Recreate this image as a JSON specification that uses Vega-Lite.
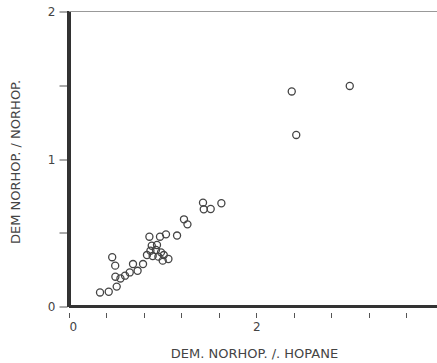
{
  "$schema": "https://vega.github.io/schema/vega-lite/v6.json",
  "width": 368,
  "height": 295,
  "autosize": {"type": "none"},
  "padding": {"left": 69, "top": 11.5, "right": 0, "bottom": 56.5},
  "background": "white",
  "config": {"view": {"stroke": null}},
  "data": {"values": [
    {"a": 2.377, "b": 1.458}, {"a": 2.996, "b": 1.495}, {"a": 2.425, "b": 1.163},
    {"a": 1.430, "b": 0.704}, {"a": 1.438, "b": 0.659}, {"a": 1.512, "b": 0.661},
    {"a": 1.626, "b": 0.700}, {"a": 1.227, "b": 0.591}, {"a": 1.264, "b": 0.557},
    {"a": 0.858, "b": 0.473}, {"a": 0.971, "b": 0.473}, {"a": 1.035, "b": 0.489},
    {"a": 1.153, "b": 0.481}, {"a": 0.883, "b": 0.412}, {"a": 0.939, "b": 0.417},
    {"a": 0.869, "b": 0.378}, {"a": 0.928, "b": 0.383}, {"a": 0.982, "b": 0.367},
    {"a": 0.832, "b": 0.349}, {"a": 0.893, "b": 0.342}, {"a": 0.954, "b": 0.338},
    {"a": 1.011, "b": 0.349}, {"a": 1.000, "b": 0.311}, {"a": 1.061, "b": 0.322},
    {"a": 0.790, "b": 0.288}, {"a": 0.461, "b": 0.334}, {"a": 0.493, "b": 0.277},
    {"a": 0.683, "b": 0.288}, {"a": 0.732, "b": 0.242}, {"a": 0.648, "b": 0.231},
    {"a": 0.598, "b": 0.209}, {"a": 0.549, "b": 0.190}, {"a": 0.495, "b": 0.202},
    {"a": 0.509, "b": 0.135}, {"a": 0.424, "b": 0.100}, {"a": 0.331, "b": 0.095}
  ]},
  "layer": [
    {
      "mark": {"type": "rule", "color": "#333", "strokeWidth": 3},
      "encoding": {"x": {"datum": 0, "type": "quantitative", "scale": {"domain": [0, 3.927]}}}
    },
    {
      "mark": {"type": "rule", "color": "#333", "strokeWidth": 3},
      "encoding": {"y": {"datum": 0, "type": "quantitative", "scale": {"domain": [0, 2]}}}
    },
    {
      "mark": {"type": "rule", "color": "#999", "strokeWidth": 1.2},
      "encoding": {"y": {"datum": 2, "type": "quantitative"}}
    },
    {
      "mark": {"type": "point", "shape": "circle", "filled": false, "size": 50, "stroke": "#444", "strokeWidth": 1.3, "opacity": 1},
      "encoding": {
        "x": {
          "field": "a", "type": "quantitative",
          "scale": {"domain": [0, 3.927], "nice": false, "zero": false},
          "axis": {
            "title": "DEM. NORHOP. /. HOPANE",
            "values": [0, 0.4, 0.8, 1.2, 1.6, 2, 2.4, 2.8, 3.2, 3.6],
            "format": "~g",
            "labelExpr": "datum.value == 0 || datum.value == 2 ? datum.label : ''",
            "domain": false, "grid": false,
            "offset": 6, "tickSize": 5, "tickColor": "#555", "tickWidth": 1,
            "labelPadding": 4, "labelFont": "DejaVu Sans", "labelFontSize": 12, "labelColor": "#444",
            "titleFont": "DejaVu Sans", "titleFontSize": 13, "titleFontWeight": "normal", "titleColor": "#444",
            "titleX": 185, "titleY": 41, "titleBaseline": "middle", "titleAlign": "center"
          }
        },
        "y": {
          "field": "b", "type": "quantitative",
          "scale": {"domain": [0, 2], "nice": false, "zero": false},
          "axis": {
            "title": "DEM NORHOP. / NORHOP.",
            "values": [0, 0.25, 0.5, 0.75, 1, 1.25, 1.5, 1.75, 2],
            "format": "~g",
            "labelExpr": "datum.value == 0 || datum.value == 1 || datum.value == 2 ? datum.label : ''",
            "domain": false, "grid": false,
            "offset": 2, "tickSize": 8, "tickColor": "#555", "tickWidth": 1,
            "labelPadding": 4, "labelFont": "DejaVu Sans", "labelFontSize": 12, "labelColor": "#444",
            "titleFont": "DejaVu Sans", "titleFontSize": 13, "titleFontWeight": "normal", "titleColor": "#444",
            "titleX": -52, "titleY": 150, "titleAngle": 270, "titleBaseline": "middle", "titleAlign": "center"
          }
        }
      }
    }
  ]
}
